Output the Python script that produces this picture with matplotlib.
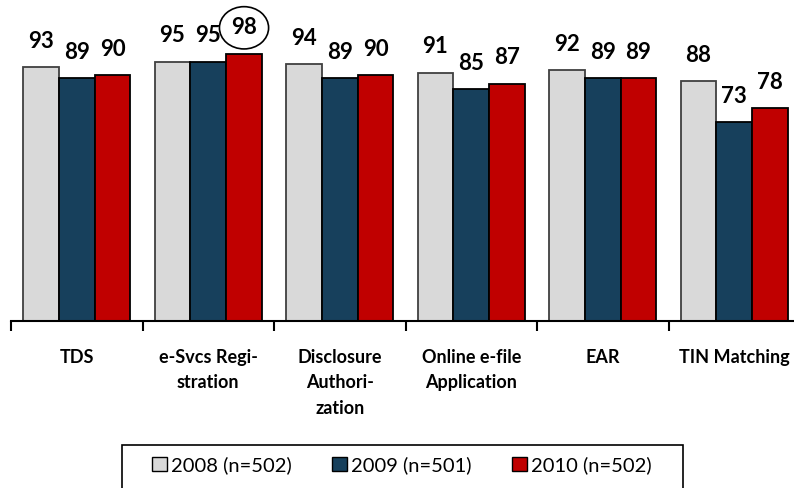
import matplotlib.pyplot as plt
import numpy as np
from matplotlib.patches import Patch, Rectangle

plt.rcParams['font.family'] = ['Lato', 'DejaVu Sans']

categories = ['TDS', 'e-Svcs Regi-\nstration', 'Disclosure\nAuthori-\nzation',
              'Online e-file\nApplication', 'EAR', 'TIN Matching']
series_names = ['2008 (n=502)', '2009 (n=501)', '2010 (n=502)']
v2008 = [93, 95, 94, 91, 92, 88]
v2009 = [89, 95, 89, 85, 89, 73]
v2010 = [90, 98, 90, 87, 89, 78]
highlight = (1, 2)  # category, series whose label gets circled

colors = ['#D9D9D9', '#17405C', '#C00000']
edges = ['#404040', '#000000', '#000000']

W, H = 794, 488
fig = plt.figure(figsize=(W / 100, H / 100), dpi=100)
ax = fig.add_axes([11 / W, 1 - 321 / H, 789 / W, 321 / H])

x = np.arange(len(categories))
bw = 0.272
values = [v2008, v2009, v2010]
for i, vals in enumerate(values):
    xs = x + (i - 1) * bw
    ax.bar(xs, vals, bw, color=colors[i], edgecolor=edges[i], linewidth=1.3, zorder=2)
    for j, (xx, v) in enumerate(zip(xs, vals)):
        box = None
        if (j, i) == highlight:
            box = dict(boxstyle='ellipse,pad=0.2', fc='none', ec='black', lw=1.2)
        ax.annotate(str(v), (xx, v), xytext=(0, 18.5), textcoords='offset points',
                    ha='center', va='center', fontsize=16, fontweight='bold', bbox=box)

ax.set_xlim(-0.5, len(categories) - 0.5)
ax.set_ylim(0, 117.6)
ax.set_yticks([])
for sp in ['top', 'right', 'left']:
    ax.spines[sp].set_visible(False)
ax.spines['bottom'].set_linewidth(1.5)

ax.set_xticks(x)
ax.set_xticklabels(categories, fontsize=13, fontweight='bold', linespacing=1.6, va='top')
ax.tick_params(axis='x', which='major', length=0, pad=20)
ax.set_xticks(np.arange(len(categories) + 1) - 0.5, minor=True)
ax.tick_params(axis='x', which='minor', length=7, width=1.5, color='black')

handles = [Patch(facecolor=colors[i], edgecolor='black', linewidth=1) for i in range(3)]
fig.legend(handles, series_names, loc='center', bbox_to_anchor=(402 / W, 1 - 465 / H),
           ncol=3, frameon=False, fontsize=14.5, handlelength=0.75, handleheight=0.75,
           handletextpad=0.2, columnspacing=2.0)
fig.patches.append(Rectangle((122 / W, -0.05), (683 - 122) / W, 0.05 + 43 / H,
                             transform=fig.transFigure, fill=False,
                             edgecolor='black', linewidth=1.2))

fig.savefig('out.png', dpi=100)
